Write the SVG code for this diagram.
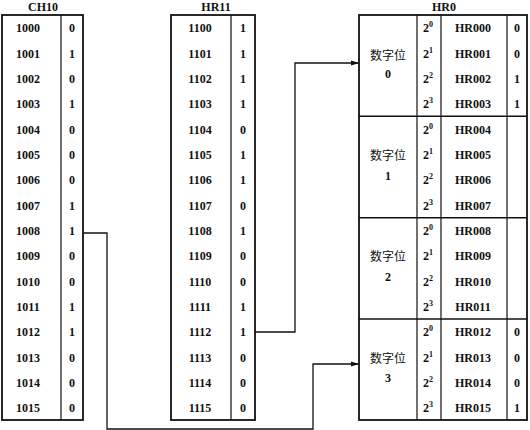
<svg xmlns="http://www.w3.org/2000/svg" width="530" height="430" viewBox="0 0 530 430">
<style>
.t{font-family:"Liberation Serif","Times New Roman",serif;font-weight:bold;font-size:12px;fill:#111;text-anchor:middle}
.tl{font-family:"Liberation Serif","Times New Roman",serif;font-weight:bold;font-size:12px;fill:#111}
.cj{font-family:"Liberation Serif","Noto Sans CJK SC",serif;font-size:12px;fill:#111;text-anchor:middle}
.box{fill:none;stroke:#111;stroke-width:1.8}
.div{stroke:#111;stroke-width:1.2}
.sep{stroke:#111;stroke-width:1.5}
.con{fill:none;stroke:#111;stroke-width:1.3}
</style>
<defs>
<marker id="ar" viewBox="0 0 8 6" refX="8" refY="3" markerWidth="8" markerHeight="6" markerUnits="userSpaceOnUse" orient="auto">
<path d="M0,0.5 L8,3 L0,5.5 z" fill="#111"/>
</marker>
</defs>
<rect width="530" height="430" fill="#fff"/>

<g id="ch10">
<text class="t" x="43" y="11">CH10</text>
<rect class="box" x="2" y="15" width="81" height="405"/>
<line class="div" x1="61" y1="15" x2="61" y2="420"/>
<g class="t">
<text x="28" y="32">1000</text><text x="72" y="32">0</text>
<text x="28" y="57.5">1001</text><text x="72" y="57.5">1</text>
<text x="28" y="83">1002</text><text x="72" y="83">0</text>
<text x="28" y="108">1003</text><text x="72" y="108">1</text>
<text x="28" y="133.5">1004</text><text x="72" y="133.5">0</text>
<text x="28" y="159">1005</text><text x="72" y="159">0</text>
<text x="28" y="184">1006</text><text x="72" y="184">0</text>
<text x="28" y="209.5">1007</text><text x="72" y="209.5">1</text>
<text x="28" y="235">1008</text><text x="72" y="235">1</text>
<text x="28" y="260">1009</text><text x="72" y="260">0</text>
<text x="28" y="285.5">1010</text><text x="72" y="285.5">0</text>
<text x="28" y="311">1011</text><text x="72" y="311">1</text>
<text x="28" y="336">1012</text><text x="72" y="336">1</text>
<text x="28" y="361.5">1013</text><text x="72" y="361.5">0</text>
<text x="28" y="387">1014</text><text x="72" y="387">0</text>
<text x="28" y="412">1015</text><text x="72" y="412">0</text>
</g>
</g>

<g id="hr11">
<text class="t" x="216" y="11">HR11</text>
<rect class="box" x="171" y="15" width="84" height="405"/>
<line class="div" x1="231" y1="15" x2="231" y2="420"/>
<g class="t">
<text x="200" y="32">1100</text><text x="243" y="32">1</text>
<text x="200" y="57.5">1101</text><text x="243" y="57.5">1</text>
<text x="200" y="83">1102</text><text x="243" y="83">1</text>
<text x="200" y="108">1103</text><text x="243" y="108">1</text>
<text x="200" y="133.5">1104</text><text x="243" y="133.5">0</text>
<text x="200" y="159">1105</text><text x="243" y="159">1</text>
<text x="200" y="184">1106</text><text x="243" y="184">1</text>
<text x="200" y="209.5">1107</text><text x="243" y="209.5">0</text>
<text x="200" y="235">1108</text><text x="243" y="235">1</text>
<text x="200" y="260">1109</text><text x="243" y="260">0</text>
<text x="200" y="285.5">1110</text><text x="243" y="285.5">0</text>
<text x="200" y="311">1111</text><text x="243" y="311">1</text>
<text x="200" y="336">1112</text><text x="243" y="336">1</text>
<text x="200" y="361.5">1113</text><text x="243" y="361.5">0</text>
<text x="200" y="387">1114</text><text x="243" y="387">0</text>
<text x="200" y="412">1115</text><text x="243" y="412">0</text>
</g>
</g>

<g id="hr0">
<text class="t" x="444" y="11">HR0</text>
<rect class="box" x="359" y="15" width="168" height="405"/>
<line class="div" x1="417" y1="15" x2="417" y2="420"/>
<line class="div" x1="441" y1="15" x2="441" y2="420"/>
<line class="div" x1="507" y1="15" x2="507" y2="420"/>
<line class="sep" x1="359" y1="116.3" x2="527" y2="116.3"/>
<line class="sep" x1="359" y1="217.7" x2="527" y2="217.7"/>
<line class="sep" x1="359" y1="319" x2="527" y2="319"/>

<g id="digit0">
<text class="cj" x="388" y="60">数字位</text>
<text class="t" x="388" y="78">0</text>
<text class="tl" x="423" y="32">2<tspan font-size="8" dy="-5">0</tspan></text>
<text class="tl" x="423" y="57.5">2<tspan font-size="8" dy="-5">1</tspan></text>
<text class="tl" x="423" y="83">2<tspan font-size="8" dy="-5">2</tspan></text>
<text class="tl" x="423" y="108">2<tspan font-size="8" dy="-5">3</tspan></text>
<text class="t" x="473" y="32">HR000</text><text class="t" x="517" y="32">0</text>
<text class="t" x="473" y="57.5">HR001</text><text class="t" x="517" y="57.5">0</text>
<text class="t" x="473" y="83">HR002</text><text class="t" x="517" y="83">1</text>
<text class="t" x="473" y="108">HR003</text><text class="t" x="517" y="108">1</text>
</g>
<g id="digit1">
<text class="cj" x="388" y="160">数字位</text>
<text class="t" x="388" y="179.5">1</text>
<text class="tl" x="423" y="133.5">2<tspan font-size="8" dy="-5">0</tspan></text>
<text class="tl" x="423" y="159">2<tspan font-size="8" dy="-5">1</tspan></text>
<text class="tl" x="423" y="184">2<tspan font-size="8" dy="-5">2</tspan></text>
<text class="tl" x="423" y="209.5">2<tspan font-size="8" dy="-5">3</tspan></text>
<text class="t" x="473" y="133.5">HR004</text>
<text class="t" x="473" y="159">HR005</text>
<text class="t" x="473" y="184">HR006</text>
<text class="t" x="473" y="209.5">HR007</text>
</g>
<g id="digit2">
<text class="cj" x="388" y="261">数字位</text>
<text class="t" x="388" y="280.5">2</text>
<text class="tl" x="423" y="235">2<tspan font-size="8" dy="-5">0</tspan></text>
<text class="tl" x="423" y="260">2<tspan font-size="8" dy="-5">1</tspan></text>
<text class="tl" x="423" y="285.5">2<tspan font-size="8" dy="-5">2</tspan></text>
<text class="tl" x="423" y="311">2<tspan font-size="8" dy="-5">3</tspan></text>
<text class="t" x="473" y="235">HR008</text>
<text class="t" x="473" y="260">HR009</text>
<text class="t" x="473" y="285.5">HR010</text>
<text class="t" x="473" y="311">HR011</text>
</g>
<g id="digit3">
<text class="cj" x="388" y="362.5">数字位</text>
<text class="t" x="388" y="382">3</text>
<text class="tl" x="423" y="336">2<tspan font-size="8" dy="-5">0</tspan></text>
<text class="tl" x="423" y="361.5">2<tspan font-size="8" dy="-5">1</tspan></text>
<text class="tl" x="423" y="387">2<tspan font-size="8" dy="-5">2</tspan></text>
<text class="tl" x="423" y="412">2<tspan font-size="8" dy="-5">3</tspan></text>
<text class="t" x="473" y="336">HR012</text><text class="t" x="517" y="336">0</text>
<text class="t" x="473" y="361.5">HR013</text><text class="t" x="517" y="361.5">0</text>
<text class="t" x="473" y="387">HR014</text><text class="t" x="517" y="387">0</text>
<text class="t" x="473" y="412">HR015</text><text class="t" x="517" y="412">1</text>
</g>
</g>

<g id="connectors">
<path class="con" d="M83,233 H107 V429 H313 V364 H359" marker-end="url(#ar)"/>
<path class="con" d="M255,332 H295 V63 H359" marker-end="url(#ar)"/>
</g>
</svg>
